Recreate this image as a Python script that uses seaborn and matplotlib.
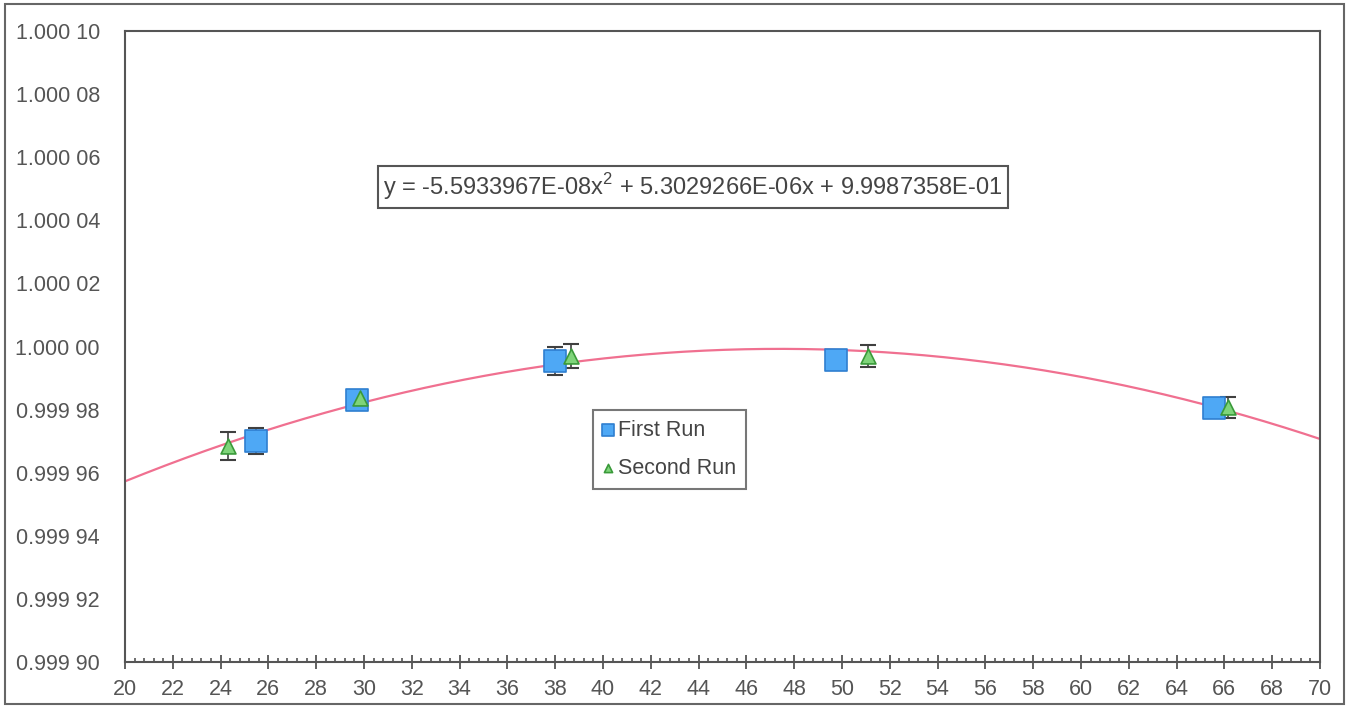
import numpy as np
import pandas as pd
import seaborn as sns
import matplotlib.pyplot as plt
from matplotlib.ticker import MultipleLocator, FuncFormatter
from matplotlib.patches import Rectangle

first_x = [25.5, 29.7, 38.0, 49.75, 65.55]
first_y = [0.999970, 0.999983, 0.9999954, 0.9999957, 0.9999805]
first_err = [0.0000041, 0.0000015, 0.0000045, 0.0000025, 0.0000020]

second_x = [24.33, 29.83, 38.68, 51.1, 66.15]
second_y = [0.9999685, 0.9999837, 0.9999970, 0.9999970, 0.9999807]
second_err = [0.0000044, 0.0000015, 0.0000038, 0.0000036, 0.0000033]

# coefficients de la courbe de tendance (affiches sur le graphique)
coef_a = -5.5933967e-08
coef_b = 5.3029266e-06
coef_c = 9.9987358e-01
equation = "y = -5.5933967E-08x$^{2}$ + 5.3029266E-06x + 9.9987358E-01"

sns.set_style("white")
plt.rcParams["font.family"] = ["Liberation Sans", "DejaVu Sans"]
plt.rcParams["mathtext.fontset"] = "custom"
plt.rcParams["mathtext.rm"] = "Liberation Sans"

fig = plt.figure(figsize=(13.48, 7.08), dpi=100)
ax = fig.add_axes([0.0927, 0.065, 0.8865, 0.891])

# courbe de tendance
xs = np.linspace(20, 70, 300)
trend = pd.DataFrame({"x": xs, "y": coef_a * xs**2 + coef_b * xs + coef_c})
sns.lineplot(data=trend, x="x", y="y", color="#f07090", linewidth=1.6, ax=ax, legend=False)

# barres d'erreur
ax.errorbar(first_x, first_y, yerr=first_err, fmt="none", ecolor="#404040",
            elinewidth=1.2, capsize=5.5, capthick=1.5, zorder=3)
ax.errorbar(second_x, second_y, yerr=second_err, fmt="none", ecolor="#404040",
            elinewidth=1.2, capsize=5.5, capthick=1.5, zorder=3)

df1 = pd.DataFrame({"x": first_x, "y": first_y})
df2 = pd.DataFrame({"x": second_x, "y": second_y})
sns.scatterplot(data=df1, x="x", y="y", marker="s", s=230, color="#4ea8f5",
                edgecolor="#2f7fd0", linewidth=1.2, ax=ax, zorder=4, label="First Run")
sns.scatterplot(data=df2, x="x", y="y", marker="^", s=115, color="#7fd47a",
                edgecolor="#3a9a3a", linewidth=1.2, ax=ax, zorder=5, label="Second Run")

ax.set_xlim(20, 70)
ax.set_ylim(0.9999, 1.0001)
ax.set_xlabel("")
ax.set_ylabel("")

ax.xaxis.set_major_locator(MultipleLocator(2))
ax.xaxis.set_minor_locator(MultipleLocator(0.4))
ax.yaxis.set_major_locator(MultipleLocator(0.00002))


def fmt_y(v, pos):
    s = f"{v:.5f}"
    return s[:5] + " " + s[5:]


ax.yaxis.set_major_formatter(FuncFormatter(fmt_y))
ax.tick_params(axis="x", which="major", direction="inout", length=10, width=1.3,
               color="#555555", labelsize=15.5, labelcolor="#555555", pad=7, bottom=True)
ax.tick_params(axis="x", which="minor", direction="in", length=3, width=1.2,
               color="#555555", bottom=True)
ax.tick_params(axis="y", which="both", length=0, labelsize=15.5, labelcolor="#555555", pad=18)

for sp in ax.spines.values():
    sp.set_color("#555555")
    sp.set_linewidth(1.5)

ax.text(0.514, 0.736, equation, transform=fig.transFigure, ha="center", va="center",
        fontsize=17, color="#444444",
        bbox=dict(boxstyle="square,pad=0.22", facecolor="white", edgecolor="#555555", linewidth=1.5))

leg = ax.legend(loc="upper left", bbox_to_anchor=(0.440, 0.421), bbox_transform=fig.transFigure,
                borderaxespad=0, fontsize=15.5, frameon=True, fancybox=False,
                handlelength=0.5, handletextpad=0.2, labelspacing=0.8,
                borderpad=0.45, markerscale=0.55)
leg.get_frame().set_edgecolor("#555555")
leg.get_frame().set_linewidth(1.5)
for t in leg.get_texts():
    t.set_color("#444444")

# cadre exterieur
fig.patches.append(Rectangle((0.004, 0.005), 0.993, 0.989, transform=fig.transFigure,
                             fill=False, edgecolor="#666666", linewidth=1.5))

fig.savefig("out.png", dpi=100)
